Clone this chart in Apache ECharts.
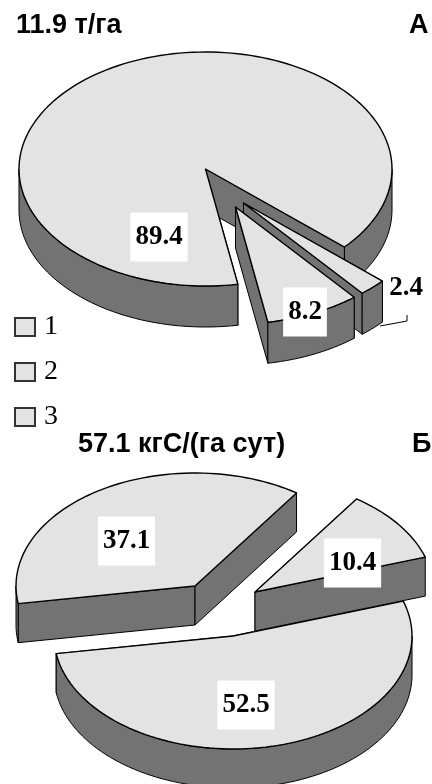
<!DOCTYPE html>
<html>
<head>
<meta charset="utf-8">
<style>
  html, body { margin: 0; padding: 0; background: #fff; }
  #chart { width: 432px; height: 784px; }
</style>
</head>
<body>
<div id="chart"></div>
<script src="https://cdn.jsdelivr.net/npm/echarts@6/dist/echarts.min.js"></script>
<script>
  const legendNames = ['1', '2', '3']
  const valuesA = [89.4, 2.4, 8.2]
  const valuesB = [37.1, 10.4, 52.5]

  const TOP_COLOR = '#e3e3e3'
  const WALL_COLOR = '#737373'
  const SERIF = '"Liberation Serif", serif'
  const SANS = '"Liberation Sans", sans-serif'

  // 椭圆饼的投影参数，角度从正东顺时针
  const layoutA = {
    cx: 205.5, cy: 169, rx: 186.5, ry: 117, depth: 41, start: 80,
    order: [0, 1, 2],
    offsets: [[0, 0], [38, 34], [30, 38]],
    labels: [[159, 237, true], [406, 288, false], [305, 312, true]],
    leaders: { 1: [[380, 326], [407, 321], [407, 315]] }
  }
  const layoutB = {
    cx: 233, cy: 636, rx: 179, ry: 113, depth: 39, start: 171,
    order: [0, 2, 1],
    offsets: [[-38, -50], [22, -44], [0, 0]],
    labels: [[126.5, 541, true], [352.5, 563, true], [246, 705, true]],
    leaders: {}
  }

  const point = (l, deg, dx, dy) => {
    const r = (deg * Math.PI) / 180
    return [l.cx + dx + l.rx * Math.cos(r), l.cy + dy + l.ry * Math.sin(r)]
  }

  const arcPoints = (l, from, to, dx, dy) => {
    const pts = []
    const steps = Math.max(2, Math.ceil(Math.abs(to - from) / 2))
    for (let i = 0; i <= steps; i++) {
      pts.push(point(l, from + ((to - from) * i) / steps, dx, dy))
    }
    return pts
  }

  const poly = (points, fill, lineWidth) => ({
    type: 'polygon',
    shape: { points },
    style: { fill, stroke: '#000', lineWidth, lineJoin: 'round' }
  })

  const sliceRange = (values, l, idx) => {
    const total = values.reduce((a, b) => a + b, 0)
    const before = values.slice(0, idx).reduce((a, b) => a + b, 0)
    const a = l.start + (before / total) * 360
    return [a, a + (values[idx] / total) * 360]
  }

  // 外侧弧面只画朝前的部分（0–180 度）
  const frontWalls = (l, a, b, dx, dy) => {
    const out = []
    for (const k of [0, 360]) {
      const from = Math.max(a, k)
      const to = Math.min(b, k + 180)
      if (to > from) {
        const upper = arcPoints(l, from, to, dx, dy)
        const lower = arcPoints(l, to, from, dx, dy + l.depth)
        out.push(poly(upper.concat(lower), WALL_COLOR, 1))
      }
    }
    return out
  }

  const cutWall = (l, deg, dx, dy) => {
    const c = [l.cx + dx, l.cy + dy]
    const e = point(l, deg, dx, dy)
    return poly([c, e, [e[0], e[1] + l.depth], [c[0], c[1] + l.depth]], WALL_COLOR, 1)
  }

  const pieSeries = (values, l) => ({
    type: 'custom',
    coordinateSystem: 'none',
    silent: true,
    animation: false,
    data: l.order.map((i) => [values[i], i]),
    renderItem: (params, api) => {
      const idx = api.value(1)
      const [a, b] = sliceRange(values, l, idx)
      const [dx, dy] = l.offsets[idx]
      const top = [[l.cx + dx, l.cy + dy]].concat(arcPoints(l, a, b, dx, dy))
      const children = [
        cutWall(l, a, dx, dy),
        cutWall(l, b, dx, dy),
        ...frontWalls(l, a, b, dx, dy),
        poly(top, TOP_COLOR, 1.4)
      ]
      if (l.leaders[idx]) {
        children.push({
          type: 'polyline',
          shape: { points: l.leaders[idx] },
          style: { fill: null, stroke: '#000', lineWidth: 1 }
        })
      }
      const [tx, ty, boxed] = l.labels[idx]
      children.push({
        type: 'text',
        style: {
          x: tx,
          y: ty,
          text: String(api.value(0)),
          fill: '#000',
          font: `bold 27px ${SERIF}`,
          align: 'center',
          verticalAlign: 'middle',
          backgroundColor: boxed ? '#fff' : null,
          padding: boxed ? [11, 5, 11, 5] : 0
        }
      })
      return { type: 'group', children }
    }
  })

  const heading = (text, left, top) => ({
    text,
    left,
    top,
    padding: 0,
    textStyle: { fontFamily: SANS, fontWeight: 'bold', fontSize: 27, color: '#000' }
  })

  const chart = echarts.init(document.getElementById('chart'), null, { renderer: 'canvas' })
  chart.setOption({
    backgroundColor: '#fff',
    animation: false,
    title: [
      heading('11.9 т/га', 16, 12),
      heading('А', 409, 12),
      heading('57.1 кгС/(га сут)', 78, 431),
      heading('Б', 412, 431)
    ],
    legend: {
      orient: 'vertical',
      left: 14,
      top: 313,
      padding: 0,
      itemWidth: 20,
      itemHeight: 18,
      itemGap: 17,
      selectedMode: false,
      icon: 'rect',
      data: legendNames,
      textStyle: { fontFamily: SERIF, fontSize: 28, color: '#000', padding: [0, 0, 0, 4] }
    },
    series: [
      pieSeries(valuesA, layoutA),
      pieSeries(valuesB, layoutB),
      ...legendNames.map((name) => ({
        type: 'custom',
        name,
        coordinateSystem: 'none',
        data: [],
        renderItem: () => null,
        itemStyle: { color: TOP_COLOR, borderColor: '#333', borderWidth: 1 }
      }))
    ]
  })
</script>
</body>
</html>
